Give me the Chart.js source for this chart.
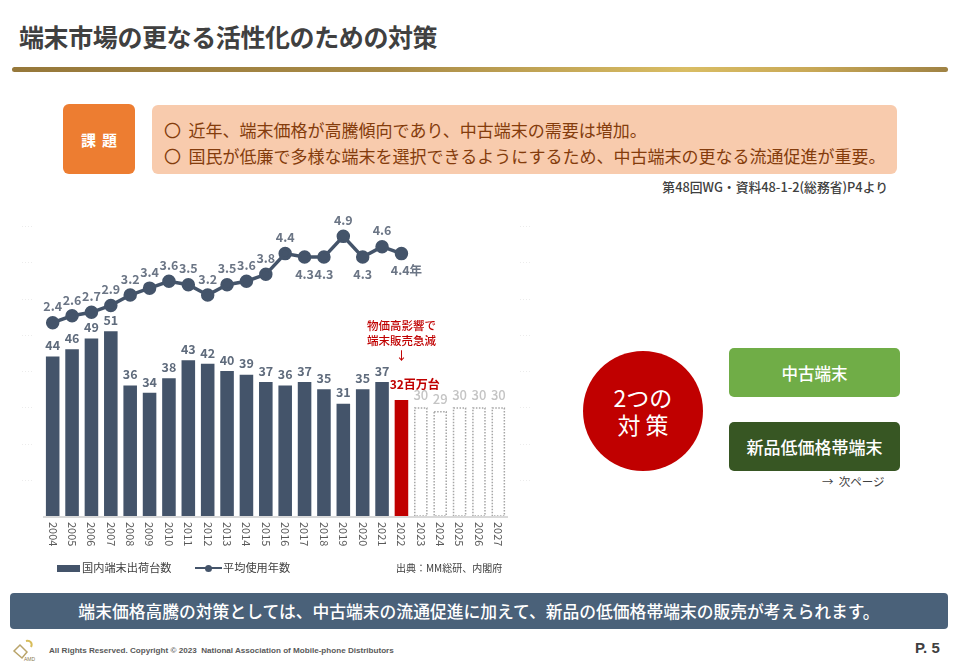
<!DOCTYPE html>
<html><head><meta charset="utf-8">
<script src="https://cdn.jsdelivr.net/npm/chart.js@4.4.1/dist/chart.umd.min.js"></script>
<style>
html,body{margin:0;padding:0}
body{width:960px;height:665px;position:relative;background:#fff;font-family:'Noto Sans CJK JP','Noto Sans',sans-serif;overflow:hidden}
.abs{position:absolute;white-space:nowrap}
.box{display:flex;align-items:center;justify-content:center;color:#fff}
</style></head><body>
<div class="abs" style="left:19px;top:18px;font-size:25px;font-weight:700;color:#404040;line-height:36px;letter-spacing:-0.4px">端末市場の更なる活性化のための対策</div>
<div class="abs" style="left:12px;top:67px;width:936px;height:5px;border-radius:3px;background:linear-gradient(90deg,#96783a 0%,#a88a46 40%,#d9bd64 72%,#c9a957 85%,#9f8244 100%)"></div>

<div class="abs box" style="left:63px;top:104px;width:72px;height:70px;border-radius:6px;background:#ed7d31;font-size:15px;font-weight:700;letter-spacing:6px;padding-left:6px;box-sizing:border-box">課題</div>
<div class="abs" style="left:152px;top:105px;width:745px;height:69px;border-radius:6px;background:#f8cbad"></div>
<div class="abs" style="left:164px;top:117px;font-size:17px;color:#843c0c;line-height:26px">
<div>〇&nbsp;&nbsp;近年、端末価格が高騰傾向であり、中古端末の需要は増加。</div>
<div>〇&nbsp;&nbsp;国民が低廉で多様な端末を選択できるようにするため、中古端末の更なる流通促進が重要。</div>
</div>
<div class="abs" style="right:72px;top:177px;font-size:12.8px;font-weight:500;color:#404040;line-height:20px">第48回WG・資料48-1-2(総務省)P4より</div>

<div class="abs" style="left:0;top:200px;width:540px;height:380px"><canvas id="c" width="540" height="380"></canvas></div>

<div class="abs" style="left:57px;top:565px;width:23px;height:7px;background:#44546a"></div>
<div class="abs" style="left:82px;top:559px;font-size:11.2px;color:#404040;line-height:16px">国内端末出荷台数</div>
<div class="abs" style="left:195px;top:567px;width:27px;height:2px;background:#44546a"></div>
<div class="abs" style="left:205px;top:564.5px;width:7px;height:7px;border-radius:50%;background:#44546a"></div>
<div class="abs" style="left:223px;top:559px;font-size:11.2px;color:#404040;line-height:16px">平均使用年数</div>
<div class="abs" style="left:396px;top:560px;font-size:10px;color:#404040;line-height:15px">出典：MM総研、内閣府</div>

<div class="abs box" style="left:583px;top:351px;width:120px;height:120px;border-radius:50%;background:#c00000;flex-direction:column;font-size:23px;line-height:27px;font-weight:400">
<div>2つの</div><div>対&nbsp;策</div></div>
<div class="abs box" style="left:729px;top:348px;width:171px;height:49px;border-radius:5px;background:#70ad47;font-size:16.5px;font-weight:500">中古端末</div>
<div class="abs box" style="left:729px;top:422px;width:171px;height:49px;border-radius:5px;background:#375623;font-size:17px;font-weight:500">新品低価格帯端末</div>
<div class="abs" style="left:822px;top:473px;font-size:11.5px;color:#404040;line-height:17px">→&nbsp;&nbsp;次ページ</div>

<div class="abs box" style="left:10px;top:593px;width:938px;height:36px;border-radius:4px;background:#4a6179;font-size:16.8px;font-weight:500">端末価格高騰の対策としては、中古端末の流通促進に加えて、新品の低価格帯端末の販売が考えられます。</div>

<svg class="abs" style="left:11px;top:637px" width="26" height="26" viewBox="0 0 26 26">
<path d="M3 14 L9 8 L16 15 L11 21 Z" fill="none" stroke="#b9a46a" stroke-width="1.5"/>
<path d="M15 4 C19 3 22 6 20 10" fill="none" stroke="#d8bd5a" stroke-width="2"/>
<text x="13" y="24" font-size="5" fill="#8a7a50" font-family="Liberation Sans">AMD</text>
</svg>
<div class="abs" style="left:49px;top:645px;font-family:'Liberation Sans',Arial,sans-serif;font-size:8.1px;font-weight:700;color:#595959;line-height:12px">All Rights Reserved. Copyright © 2023&nbsp;&nbsp;National Association of Mobile-phone Distributors</div>
<div class="abs" style="left:915px;top:638px;font-family:'Liberation Sans',Arial,sans-serif;font-size:15px;font-weight:700;color:#404040;line-height:20px">P. 5</div>

<script>
const years = ['2004','2005','2006','2007','2008','2009','2010','2011','2012','2013','2014','2015','2016','2017','2018','2019','2020','2021','2022','2023','2024','2025','2026','2027'];
const shipments = [44,46,49,51,36,34,38,43,42,40,39,37,36,37,35,31,35,37,32,30,29,30,30,30];
const usageYears = [2.4,2.6,2.7,2.9,3.2,3.4,3.6,3.5,3.2,3.5,3.6,3.8,4.4,4.3,4.3,4.9,4.3,4.6,4.4,null,null,null,null,null];
const labelsBelow = ['2017','2018','2020','2022'];
const highlightYear = '2022';
const forecastYears = ['2023','2024','2025','2026','2027'];
const highlightLabel = '32百万台';
const lastLineSuffix = '年';
const noteLines = ['物価高影響で','端末販売急減','↓'];

const DARK = '#44546a', RED = '#c00000';
const FONT = "'Noto Sans CJK JP','Noto Sans',sans-serif";

const barColors = years.map(y => y === highlightYear ? RED : (forecastYears.includes(y) ? 'rgba(255,255,255,0)' : DARK));

const drawPlugin = {
  id: 'custom',
  beforeDatasetsDraw(chart) {
    const ctx = chart.ctx, ys = chart.scales.y;
    ctx.save();
    ctx.strokeStyle = '#ececec'; ctx.lineWidth = 1; ctx.setLineDash([1,2]);
    for (let v = 10; v <= 80; v += 10) {
      const py = Math.round(ys.getPixelForValue(v)) + 0.5;
      ctx.beginPath(); ctx.moveTo(22, py); ctx.lineTo(34, py); ctx.stroke();
      ctx.beginPath(); ctx.moveTo(520, py); ctx.lineTo(532, py); ctx.stroke();
    }
    ctx.setLineDash([]);
    ctx.restore();
  },
  afterDatasetsDraw(chart) {
    const ctx = chart.ctx, a = chart.chartArea;
    const barMeta = chart.getDatasetMeta(0), lineMeta = chart.getDatasetMeta(1);
    ctx.save();
    ctx.strokeStyle = '#a6a6a6'; ctx.lineWidth = 1.5; ctx.setLineDash([1.5,1.5]);
    barMeta.data.forEach((b, i) => {
      if (!forecastYears.includes(years[i])) return;
      const p = b.getProps(['x','y','base','width'], true);
      ctx.strokeRect(p.x - p.width/2 + 0.75, p.y + 0.75, p.width - 1.5, p.base - p.y - 0.75);
    });
    ctx.setLineDash([]);
    ctx.strokeStyle = '#d9d9d9'; ctx.lineWidth = 2;
    ctx.beginPath(); ctx.moveTo(a.left, a.bottom + 1); ctx.lineTo(a.right, a.bottom + 1); ctx.stroke();
    ctx.textAlign = 'center'; ctx.textBaseline = 'middle';
    barMeta.data.forEach((b, i) => {
      const p = b.getProps(['x','y','width'], true);
      if (years[i] === highlightYear) {
        ctx.font = "700 12px " + FONT; ctx.fillStyle = RED; ctx.textAlign = 'left';
        ctx.fillText(highlightLabel, p.x - p.width/2 - 5, p.y - 16);
        ctx.textAlign = 'center';
        ctx.font = "500 11.5px " + FONT;
        noteLines.forEach((t, k) => ctx.fillText(t, p.x, p.y - 74 + k * 15));
        return;
      }
      const fc = forecastYears.includes(years[i]);
      ctx.font = (fc ? "500 13px " : "600 12.5px ") + FONT;
      ctx.fillStyle = fc ? '#c4c4c4' : '#5f6b7c';
      ctx.fillText(String(shipments[i]), p.x, p.y - (fc ? 12 : 11));
    });
    ctx.font = "600 12.5px " + FONT; ctx.fillStyle = '#6b7585';
    lineMeta.data.forEach((pt, i) => {
      if (usageYears[i] == null) return;
      const p = pt.getProps(['x','y'], true);
      const below = labelsBelow.includes(years[i]);
      let t = usageYears[i].toFixed(1);
      if (years[i] === highlightYear) t += lastLineSuffix;
      ctx.fillText(t, p.x + (years[i] === highlightYear ? 5 : 0), below ? p.y + 17 : p.y - 16);
    });
    ctx.font = "11px " + FONT; ctx.fillStyle = '#595959'; ctx.textAlign = 'left';
    const xs = chart.scales.x;
    years.forEach((y, i) => {
      const px = xs.getPixelForValue(i);
      ctx.save(); ctx.translate(px, a.bottom + 6); ctx.rotate(Math.PI/2);
      ctx.fillText(y, 0, 0); ctx.restore();
    });
    ctx.restore();
  }
};

new Chart(document.getElementById('c'), {
  type: 'bar',
  data: {
    labels: years,
    datasets: [
      { type: 'bar', label: '国内端末出荷台数', data: shipments, backgroundColor: barColors, yAxisID: 'y',
        categoryPercentage: 1, barPercentage: 0.7, order: 2 },
      { type: 'line', label: '平均使用年数', data: usageYears, yAxisID: 'y1', borderColor: DARK, borderWidth: 3.5,
        pointRadius: 5, pointBackgroundColor: DARK, pointBorderColor: DARK, tension: 0, spanGaps: false, order: 1 }
    ]
  },
  options: {
    responsive: false, animation: false, devicePixelRatio: 1,
    layout: { padding: { left: 43, right: 32, top: 26, bottom: 64 } },
    plugins: { legend: { display: false }, tooltip: { enabled: false } },
    scales: {
      x: { display: false, offset: true },
      y: { display: false, min: 0, max: 80 },
      y1: { display: false, min: -3.2, max: 5.2 }
    }
  },
  plugins: [drawPlugin]
});
</script>
</body></html>
